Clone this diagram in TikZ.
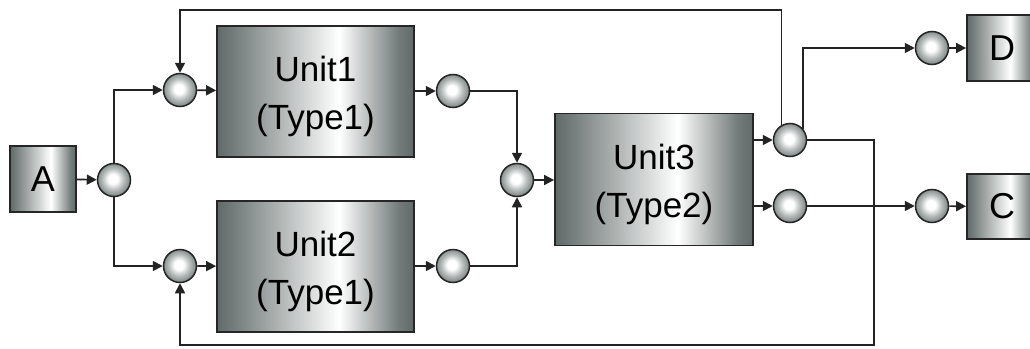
\documentclass[tikz,border=0pt]{standalone}
\usepackage{fontspec}
\setmainfont{Liberation Sans}
\usetikzlibrary{arrows.meta}
\definecolor{bdark}{RGB}{96,106,104}
\definecolor{cdark}{RGB}{128,136,135}
\definecolor{lnc}{RGB}{35,35,35}
\pgfdeclarehorizontalshading{boxshade}{100bp}{color(0bp)=(bdark); color(25bp)=(bdark); color(29bp)=(bdark!88!white); color(56bp)=(white); color(71bp)=(bdark!88!white); color(75bp)=(bdark); color(100bp)=(bdark)}
\pgfdeclareradialshading{circshade}{\pgfpoint{-2bp}{2bp}}{color(0bp)=(white); color(7bp)=(white); color(16bp)=(cdark!55!white); color(25bp)=(cdark); color(50bp)=(cdark)}
\tikzset{
  unitbox/.style={draw=black!85, line width=1.8pt, shade, shading=boxshade, minimum width=197pt, minimum height=131pt, inner sep=0pt},
  endbox/.style={draw=black!85, line width=1.8pt, shade, shading=boxshade, minimum width=66pt, minimum height=66pt, inner sep=0pt, font=\fontsize{36}{40}\selectfont},
  joint/.style={circle, draw=black!85, line width=1.5pt, shade, shading=circshade, minimum size=33pt, inner sep=0pt},
  lbl/.style={font=\fontsize{35}{48}\selectfont, align=center, yshift=-4.5pt},
  conn/.style={draw=lnc, line width=1.7pt, -{Triangle[length=10pt,width=10pt]}},
  wire/.style={draw=lnc, line width=1.7pt}
}
\begin{document}
\begin{tikzpicture}[x=1pt,y=-1pt]
\useasboundingbox (0,0) rectangle (1030,348);
\begin{scope}
\clip (0,0) rectangle (1030,348);
% boxes
\node[endbox] (A) at (43,179) {A};
\node[unitbox, label={[lbl]center:Unit1\\(Type1)}] (U1) at (315.5,91.5) {};
\node[unitbox, label={[lbl]center:Unit2\\(Type1)}] (U2) at (315.5,266.5) {};
\node[unitbox, minimum width=198pt, minimum height=132pt, label={[lbl]center:Unit3\\(Type2)}] (U3) at (654,179.5) {};
\node[endbox, minimum width=70pt] (D) at (1002,48) {D};
\node[endbox, minimum width=70pt, minimum height=65pt] (C) at (1002,206.5) {C};
% joints
\node[joint] (s0) at (114,180) {};
\node[joint] (i1) at (180,90) {};
\node[joint] (i2) at (180,266) {};
\node[joint] (o1) at (453,91) {};
\node[joint] (o2) at (453,266) {};
\node[joint] (m) at (517,180) {};
\node[joint] (p1) at (790,140) {};
\node[joint] (p2) at (790,206) {};
\node[joint] (d) at (932,48) {};
\node[joint] (c) at (932,206) {};
\coordinate (tl) at (180,10);
\coordinate (fb) at (874,345);
% connectors
\draw[conn] (A) -- (s0);
\draw[conn] (s0) |- (i1);
\draw[conn] (s0) |- (i2);
\draw[conn] (i1) -- (U1);
\draw[conn] (i2) -- (U2);
\draw[conn] (U1.east |- o1) -- (o1);
\draw[conn] (U2.east |- o2) -- (o2);
\draw[conn] (o1) -| (m);
\draw[conn] (o2) -| (m);
\draw[conn] (m) -- (U3.west |- m);
\draw[conn] (U3.east |- p1) -- (p1);
\draw[conn] (U3.east |- p2) -- (p2);
\draw[conn] (p1.120) -- (p1.120 |- tl) -| (i1);
\draw[conn] (p1.40) |- (d);
\draw[conn] (p1.east) -| (fb) -| (i2);
\draw[conn] (p2) -- (c);
\draw[conn] (d) -- (D);
\draw[conn] (c) -- (C);
\end{scope}
\end{tikzpicture}
\end{document}
